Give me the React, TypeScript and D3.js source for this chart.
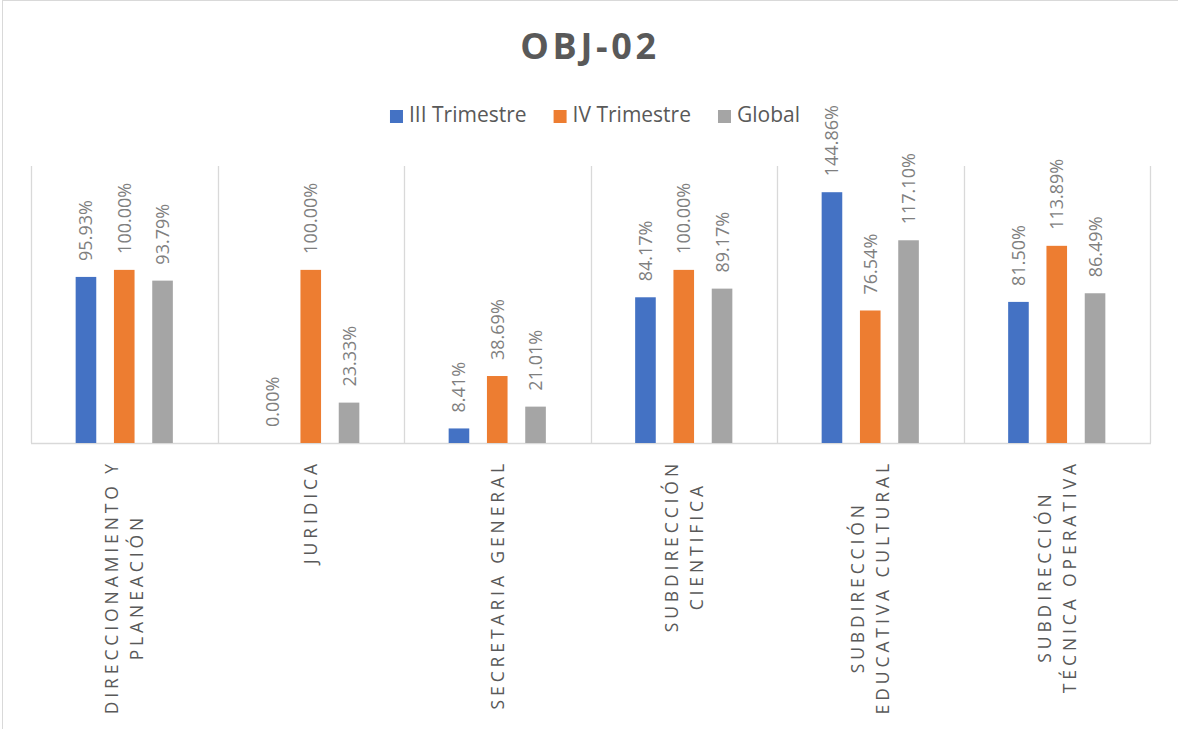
import React, { useEffect, useRef } from "react";
import * as d3 from "d3";

const categories = [
  "DIRECCIONAMIENTO Y\nPLANEACIÓN",
  "JURIDICA",
  "SECRETARIA GENERAL",
  "SUBDIRECCIÓN\nCIENTIFICA",
  "SUBDIRECCIÓN\nEDUCATIVA CULTURAL",
  "SUBDIRECCIÓN\nTÉCNICA OPERATIVA",
];
const seriesNames = ["III Trimestre", "IV Trimestre", "Global"];
const seriesColors = ["#4472C4", "#ED7D31", "#A5A5A5"];
const iiiTrimestre = [95.93, 0.0, 8.41, 84.17, 144.86, 81.5];
const ivTrimestre = [100.0, 100.0, 38.69, 100.0, 76.54, 113.89];
const globalValues = [93.79, 23.33, 21.01, 89.17, 117.1, 86.49];
const yMax = 160;
const title = "OBJ-02";

const W = 1178;
const H = 729;

export default function App() {
  const ref = useRef<SVGSVGElement | null>(null);

  useEffect(() => {
    const svg = d3.select(ref.current);
    svg.selectAll("*").remove();

    const values = [iiiTrimestre, ivTrimestre, globalValues];
    const left = 31, right = 1150, top = 166, bottom = 443;

    // frame
    svg.append("rect").attr("x", 2.5).attr("y", 0.5).attr("width", W + 10).attr("height", H + 10)
      .attr("fill", "#fff").attr("stroke", "#d9d9d9").attr("stroke-width", 1);

    // title
    svg.append("text").attr("x", 590).attr("y", 59)
      .attr("text-anchor", "middle")
      .style("font-family", "'Open Sans', sans-serif").style("font-weight", 700)
      .style("font-size", "36px").style("letter-spacing", "3.7px")
      .attr("fill", "#595959").text(title);

    const x0 = d3.scaleBand<number>().domain(d3.range(categories.length)).range([left, right]).padding(0);
    const step = x0.bandwidth();
    const x1 = d3.scaleBand<number>().domain(d3.range(seriesNames.length))
      .range([-step * 0.308, step * 0.308]).paddingInner(0.462).paddingOuter(0.231);
    const y = d3.scaleLinear().domain([0, yMax]).range([bottom, top]);

    // separators
    const sepG = svg.append("g");
    d3.range(categories.length + 1).forEach((i) => {
      const xx = Math.round(left + i * step) + 0.5;
      sepG.append("line").attr("x1", xx).attr("x2", xx).attr("y1", top).attr("y2", bottom)
        .attr("stroke", "#d9d9d9").attr("stroke-width", 1.3);
    });
    sepG.append("line").attr("x1", left).attr("x2", right + 1).attr("y1", bottom + 0.5).attr("y2", bottom + 0.5)
      .attr("stroke", "#d9d9d9").attr("stroke-width", 1.5);

    // bars
    values.forEach((vals, s) => {
      const g = svg.append("g");
      vals.forEach((v, i) => {
        const cx = (x0(i) as number) + step / 2;
        const bx = cx + (x1(s) as number);
        g.append("rect").attr("x", bx).attr("width", x1.bandwidth())
          .attr("y", y(v)).attr("height", bottom - y(v)).attr("fill", seriesColors[s]);
      });
    });

    // data labels
    values.forEach((vals, s) => {
      vals.forEach((v, i) => {
        const cx = (x0(i) as number) + step / 2 + (x1(s) as number) + x1.bandwidth() / 2;
        svg.append("text")
          .attr("transform", `translate(${cx},${y(v) - 16}) rotate(-90)`)
          .attr("text-anchor", "start").attr("dy", "0.36em")
          .style("font-family", "'Open Sans', sans-serif").style("font-size", "18px")
          .attr("fill", "#7f7f7f").text(d3.format(".2f")(v) + "%");
      });
    });

    // category labels
    const labelTop = 462;
    const lineGap = 25;
    const ls = 3.9;
    categories.forEach((c, i) => {
      const lines = c.split("\n");
      const cx = (x0(i) as number) + step / 2;
      const g = svg.append("g");
      const nodes = lines.map((ln) =>
        g.append("text").attr("text-anchor", "middle").attr("dy", "0.36em")
          .style("font-family", "'Open Sans', sans-serif").style("font-size", "17.5px")
          .style("letter-spacing", `${ls}px`)
          .attr("fill", "#595959").text(ln)
      );
      const maxLen = d3.max(nodes, (n) => (n.node() as SVGTextElement).getComputedTextLength()) || 0;
      const cy = labelTop + (maxLen - ls) / 2;
      nodes.forEach((n, k) => {
        const lx = cx + (k - (lines.length - 1) / 2) * lineGap;
        n.attr("transform", `translate(${lx},${cy}) rotate(-90)`);
      });
    });

    // legend
    const legG = svg.append("g");
    let lx = 0;
    seriesNames.forEach((name, s) => {
      const g = legG.append("g").attr("transform", `translate(${lx},0)`);
      g.append("rect").attr("x", 0).attr("y", 110).attr("width", 13).attr("height", 13).attr("fill", seriesColors[s]);
      const t = g.append("text").attr("x", 19).attr("y", 122)
        .style("font-family", "'Open Sans', sans-serif").style("font-size", "21px")
        .attr("fill", "#595959").text(name);
      const w = 19 + (t.node() as SVGTextElement).getComputedTextLength();
      lx += w + 27;
    });
    const totalW = lx - 27;
    legG.attr("transform", `translate(${595 - totalW / 2},0)`);
  }, []);

  return (
    <svg
      ref={ref}
      width={W}
      height={H}
      style={{ position: "absolute", left: 0, top: 0, background: "#fff" }}
    />
  );
}
